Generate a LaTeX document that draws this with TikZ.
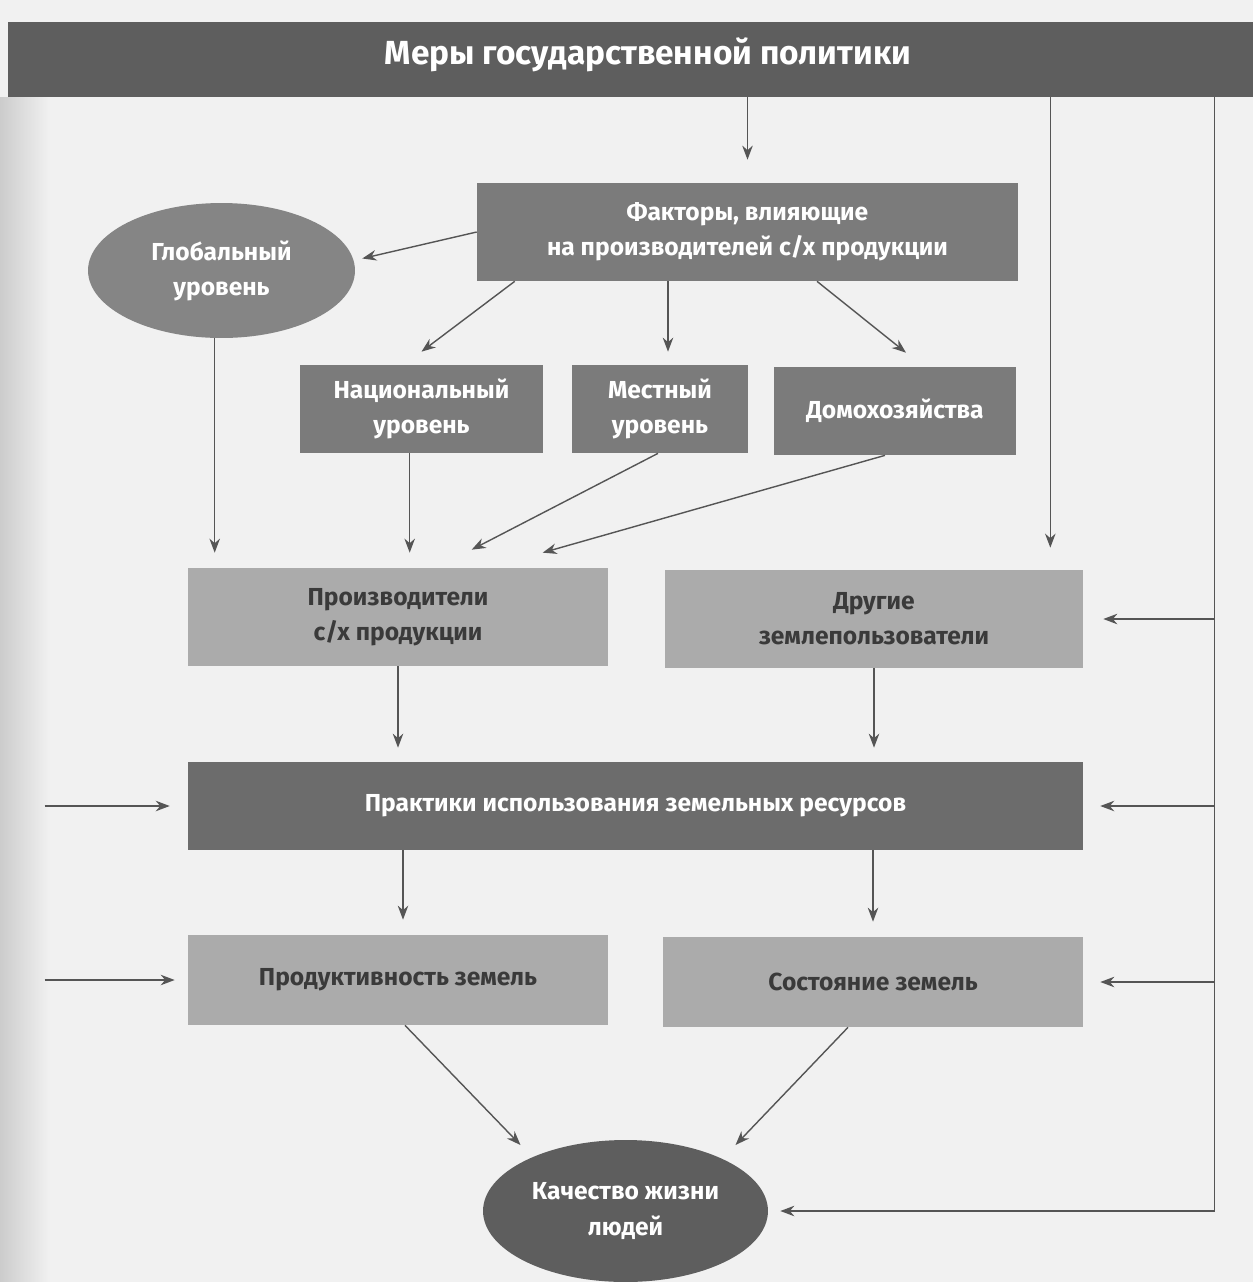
\documentclass[tikz,border=0pt]{standalone}
\usepackage{fontspec}
\setmainfont{Fira Sans}
\usetikzlibrary{shapes.geometric,arrows.meta,calc}
\definecolor{bg}{HTML}{F1F1F1}
\definecolor{barc}{HTML}{5E5E5E}
\definecolor{darkc}{HTML}{6C6C6C}
\definecolor{midc}{HTML}{7B7B7B}
\definecolor{globc}{HTML}{858585}
\definecolor{lightc}{HTML}{ABABAB}
\definecolor{linec}{HTML}{555555}
\definecolor{txtd}{HTML}{3A3A3A}
\tikzset{
  base/.style={inner sep=0pt, align=center, font=\bfseries\fontsize{14}{20}\selectfont},
  darkbox/.style={base, rectangle, fill=midc, text=white},
  lightbox/.style={base, rectangle, fill=lightc, text=txtd},
  darkell/.style={base, ellipse, text=white},
  arr/.style={draw=linec, line width=0.8pt, -{Stealth[length=8pt,width=6pt]}},
  plain/.style={draw=linec, line width=0.8pt},
}
\begin{document}
\begin{tikzpicture}[x=0.02cm,y=-0.02cm]
\useasboundingbox (0,0) rectangle (1253,1282);
\fill[bg] (0,0) rectangle (1253,1282);
\shade[left color=gray!40, right color=bg] (0,97) rectangle (50,1282);
% top bar
\node[rectangle, fill=barc, minimum width=24.9cm, minimum height=1.5cm, inner sep=0pt] (bar) at (630.5,59.5) {};
\node[text=white, font=\bfseries\fontsize{19}{24}\selectfont] (title) at (648,55) {Меры государственной политики};
% nodes
\node[darkbox, minimum width=10.82cm, minimum height=1.96cm] (fact) at (747.5,232) {Факторы, влияющие\\на производителей с/х продукции};
\node[darkell, fill=globc, minimum width=5.34cm, minimum height=2.7cm] (glob) at (221.5,270.5) {Глобальный\\уровень};
\node[darkbox, minimum width=4.86cm, minimum height=1.76cm] (nat) at (421.5,409) {Национальный\\уровень};
\node[darkbox, minimum width=3.52cm, minimum height=1.76cm] (loc) at (660,409) {Местный\\уровень};
\node[darkbox, minimum width=4.84cm, minimum height=1.76cm] (dom) at (895,411) {Домохозяйства};
\node[lightbox, minimum width=8.4cm, minimum height=1.96cm] (prod) at (398,617) {Производители\\с/х продукции};
\node[lightbox, minimum width=8.36cm, minimum height=1.96cm] (oth) at (874,619) {Другие\\землепользователи};
\node[darkbox, fill=darkc, minimum width=17.9cm, minimum height=1.76cm] (prac) at (635.5,806) {Практики использования земельных ресурсов};
\node[lightbox, minimum width=8.4cm, minimum height=1.8cm] (pty) at (398,980) {Продуктивность земель};
\node[lightbox, minimum width=8.4cm, minimum height=1.8cm] (sost) at (873,982) {Состояние земель};
\node[darkell, fill=barc, minimum width=5.7cm, minimum height=2.84cm] (life) at (625.5,1211) {Качество жизни\\людей};
% connectors from bar
\draw[arr, shorten >=0.46cm] (bar.south -| fact.north) -- (fact.north);
\coordinate (r1) at ($(oth.north east)+(-33,-22)$);
\draw[arr] (r1 |- bar.south) -- (r1);
\coordinate (rail) at ($(bar.south west)+(1207,0)$);
\draw[plain] (rail) -- (rail |- life.east);
\draw[arr, shorten >=0.4cm] (rail |- oth.east) -- (oth.east);
\draw[arr, shorten >=0.34cm] (rail |- prac.east) -- (prac.east);
\draw[arr, shorten >=0.34cm] (rail |- sost.east) -- (sost.east);
\draw[arr, shorten >=0.24cm] (rail |- life.east) -- (life.east);
% factors
\draw[arr] (fact.west) -- ($(glob.east)+(7,-12)$);
\draw[arr] ($(fact.south west)+(38,0)$) -- ($(nat.north)+(0,-13)$);
\coordinate (a3) at ($(loc.north)+(8,-13)$);
\draw[arr] (a3 |- fact.south) -- (a3);
\draw[arr] ($(fact.south)+(69.5,0)$) -- ($(dom.north)+(11,-14)$);
% to producers
\coordinate (p1) at ($(prod.north west)+(27,-15)$);
\draw[arr] (p1 |- glob.south) -- (p1);
\coordinate (p2) at ($(prod.north west)+(222,-15)$);
\draw[arr] (p2 |- nat.south) -- (p2);
\draw[arr] ($(loc.south)+(-2,0)$) -- ($(prod.north west)+(284,-18)$);
\draw[arr] ($(dom.south)+(-10,0)$) -- ($(prod.north west)+(355,-15)$);
% to practices
\draw[arr, shorten >=0.28cm] (prod.south) -- (prod.south |- prac.north);
\draw[arr, shorten >=0.28cm] (oth.south) -- (oth.south |- prac.north);
\coordinate (l1) at ($(prac.west)+(-143,0)$);
\draw[arr, shorten >=0.36cm] (l1) -- (prac.west);
\coordinate (l2) at ($(pty.west)+(-143,0)$);
\draw[arr, shorten >=0.26cm] (l2) -- (pty.west);
% to land
\coordinate (d1) at ($(pty.north)+(5,0)$);
\draw[arr, shorten >=0.3cm] (d1 |- prac.south) -- (d1);
\draw[arr, shorten >=0.3cm] (sost.north |- prac.south) -- (sost.north);
% to life
\draw[arr] ($(pty.south)+(7,0)$) -- ($(life.center)+(-105,-66)$);
\draw[arr] ($(sost.south)+(-25,0)$) -- ($(life.center)+(110,-66)$);
\end{tikzpicture}
\end{document}
